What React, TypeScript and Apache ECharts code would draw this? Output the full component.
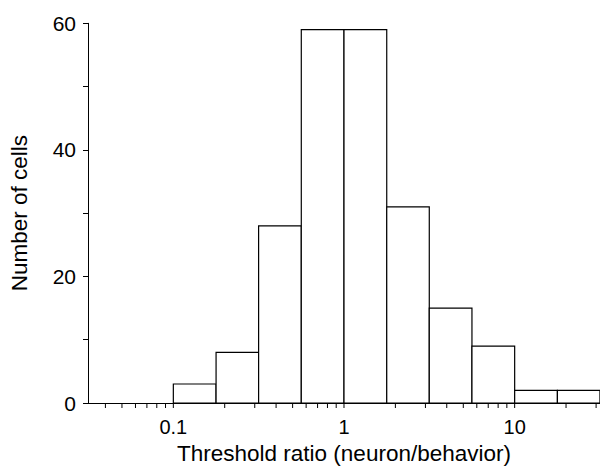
import React, { useEffect, useRef } from "react";
import * as echarts from "echarts";

// Histogram bins on a log axis (4 bins per decade)
const binEdges = [0.1, 0.178, 0.316, 0.562, 1, 1.78, 3.16, 5.62, 10, 17.8, 31.6];
const counts = [3, 8, 28, 59, 59, 31, 15, 9, 2, 2];

const xMajorTicks = [0.1, 1, 10];
const xMajorLabels = ["0.1", "1", "10"];
const xMinorTicks = [
  0.04, 0.05, 0.06, 0.07, 0.08, 0.09,
  0.2, 0.3, 0.4, 0.5, 0.6, 0.7, 0.8, 0.9,
  2, 3, 4, 5, 6, 7, 8, 9,
  20, 30,
];
const yLabeled = [0, 20, 40, 60];

const FONT = "'Liberation Sans', Arial, Helvetica, sans-serif";

export default function App() {
  const ref = useRef<HTMLDivElement>(null);

  useEffect(() => {
    if (!ref.current) return;
    const chart = echarts.init(ref.current, undefined, { renderer: "svg" });

    const barData = counts.map((c, i) => [binEdges[i], binEdges[i + 1], c]);
    const tickData = [...xMajorTicks, ...xMinorTicks].map((v) => [v, 0]);

    chart.setOption({
      animation: false,
      backgroundColor: "#fff",
      grid: { left: 84.5, right: 0, top: 23.3, bottom: 65.7, containLabel: false },
      xAxis: {
        type: "log",
        logBase: 10,
        min: 0.031623,
        max: 31.623,
        name: "Threshold ratio (neuron/behavior)",
        nameLocation: "middle",
        nameGap: 39,
        nameTextStyle: { color: "#000", fontSize: 22.5, fontFamily: FONT },
        axisLine: { show: true, lineStyle: { color: "#000", width: 1 } },
        axisTick: { show: false },
        splitLine: { show: false },
        minorTick: { show: false },
        axisLabel: {
          color: "#000",
          fontSize: 20,
          fontFamily: FONT,
          margin: 14,
          showMinLabel: false,
          showMaxLabel: false,
          formatter: (v: number) => {
            for (let i = 0; i < xMajorTicks.length; i++) {
              if (Math.abs(v - xMajorTicks[i]) / xMajorTicks[i] < 1e-6) return xMajorLabels[i];
            }
            return "";
          },
        },
      },
      yAxis: {
        type: "value",
        min: 0,
        max: 60,
        interval: 10,
        name: "Number of cells",
        nameLocation: "middle",
        nameGap: 57,
        nameTextStyle: { color: "#000", fontSize: 22.5, fontFamily: FONT },
        axisLine: { show: true, lineStyle: { color: "#000", width: 1 } },
        axisTick: { show: true, length: 5, lineStyle: { color: "#000", width: 1 } },
        splitLine: { show: false },
        axisLabel: {
          color: "#000",
          fontSize: 21,
          fontFamily: FONT,
          margin: 12,
          formatter: (v: number) => (yLabeled.indexOf(v) >= 0 ? String(v) : ""),
        },
      },
      series: [
        {
          type: "custom",
          clip: true,
          encode: { x: [0, 1], y: 2 },
          data: barData,
          renderItem: (params: any, api: any) => {
            const p0 = api.coord([api.value(0), 0]);
            const p1 = api.coord([api.value(1), api.value(2)]);
            return {
              type: "rect",
              shape: { x: p0[0], y: p1[1], width: p1[0] - p0[0], height: p0[1] - p1[1] },
              style: { fill: "#fff", stroke: "#000", lineWidth: 1.2 },
            };
          },
        },
        {
          type: "custom",
          clip: false,
          encode: { x: 0, y: 1 },
          data: tickData,
          renderItem: (params: any, api: any) => {
            const p = api.coord([api.value(0), 0]);
            return {
              type: "line",
              shape: { x1: p[0], y1: p[1], x2: p[0], y2: p[1] + 5 },
              style: { stroke: "#000", lineWidth: 1 },
            };
          },
        },
      ],
    });

    return () => chart.dispose();
  }, []);

  return (
    <div
      ref={ref}
      style={{ position: "absolute", left: 0, top: 0, width: 600, height: 470 }}
    />
  );
}
